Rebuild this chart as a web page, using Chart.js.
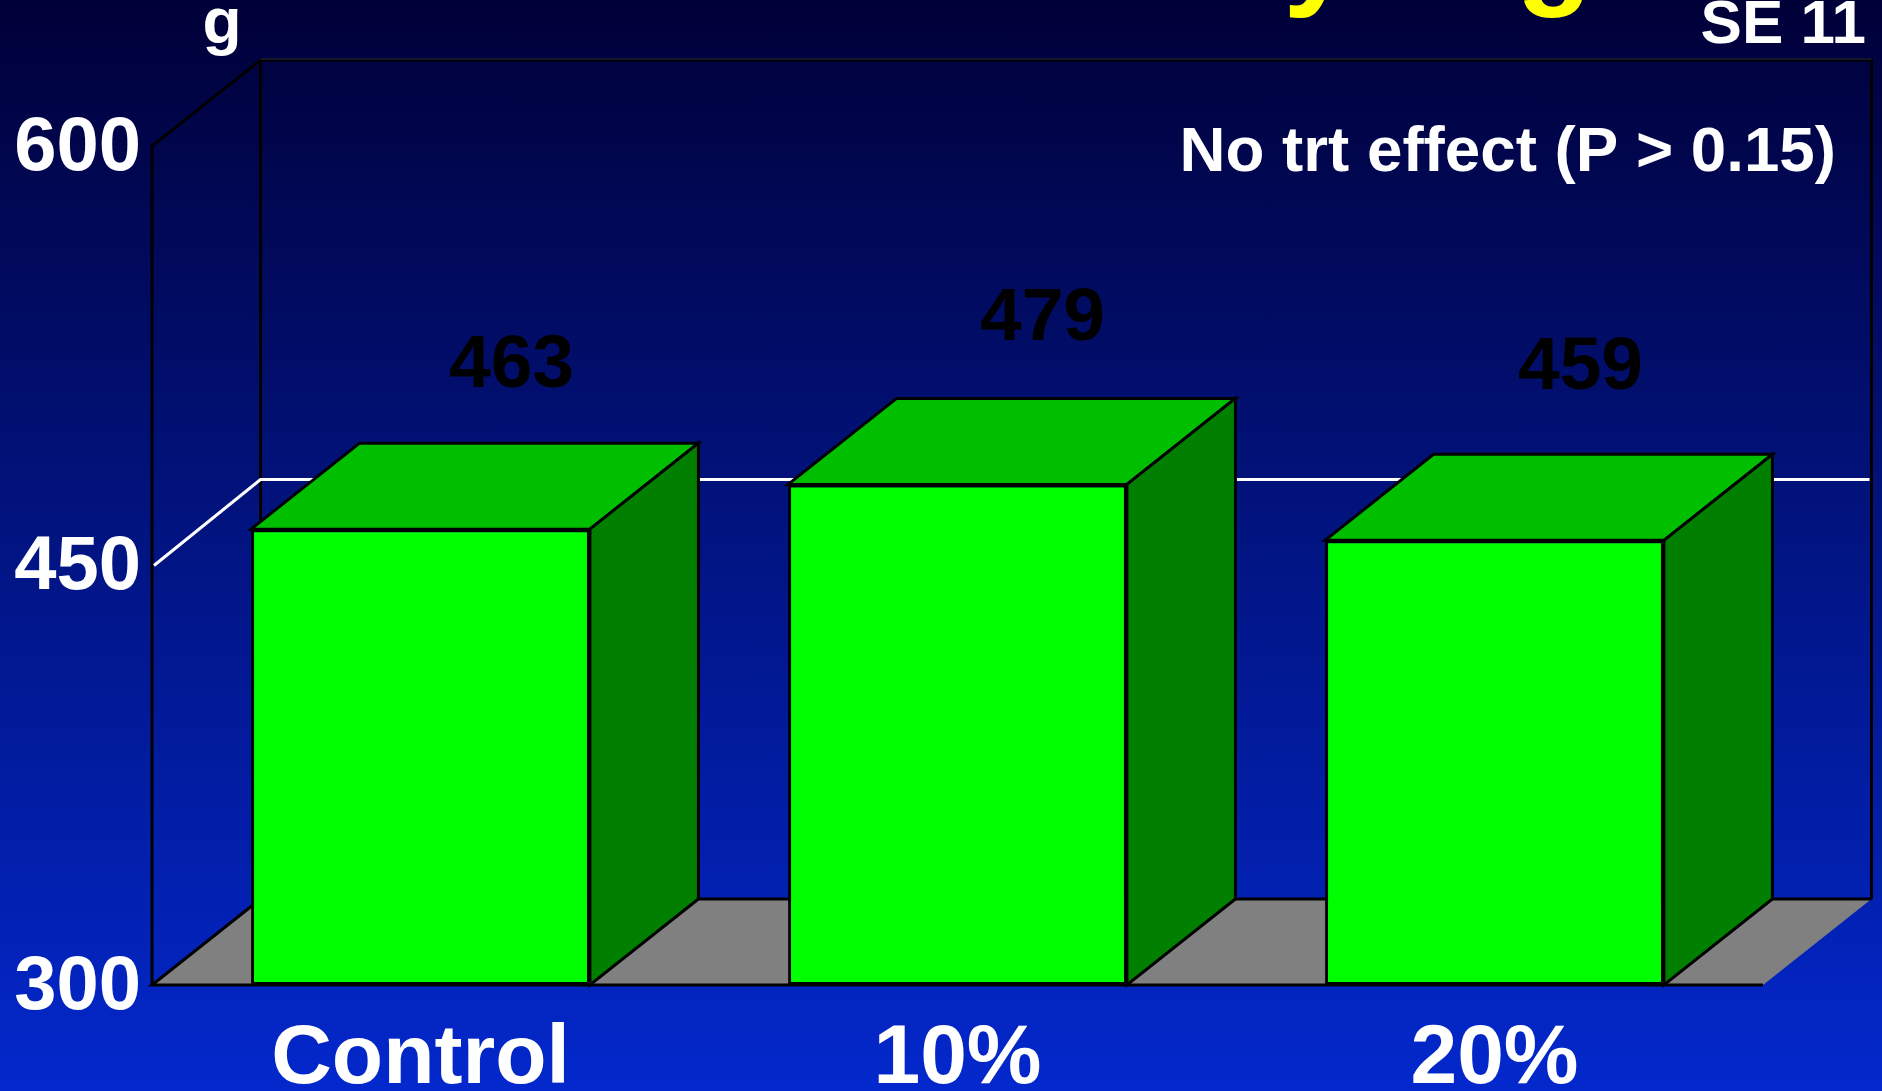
<!DOCTYPE html>
<html>
<head>
<meta charset="utf-8">
<title>Body weight by treatment</title>
<script src="https://cdn.jsdelivr.net/npm/chart.js@4"></script>
<style>
    html, body { margin: 0; padding: 0; background: #000038; overflow: hidden; }
    #weight-chart {
        display: block;
        background: linear-gradient(to bottom, #000038 0%, #0328cc 100%);
    }
</style>
</head>
<body>
<canvas id="weight-chart" width="1882" height="1091"></canvas>
<script>
const categories = ["Control", "10%", "20%"];
const weights = [463, 479, 459];
const yMin = 300;
const yMax = 600;
const yStep = 150;
const gridValue = 450;

const seNote = "SE 11";
const effectNote = "No trt effect (P > 0.15)";
const unitLabel = "g";
const headingGlyphs = ["y", "g"];

const fontFamily = '"Liberation Sans", Arial, sans-serif';

// Perspective offset of the fake 3D box
const depthX = 108.5;
const depthY = 86;

// Value labels float up and to the right of each box
const labelShift = [
    { x: 91, y: 142 },
    { x: 85, y: 144 },
    { x: 86, y: 151 },
];

function line(ctx, points, color, width) {
    ctx.beginPath();
    points.forEach(([x, y], i) => (i ? ctx.lineTo(x, y) : ctx.moveTo(x, y)));
    ctx.strokeStyle = color;
    ctx.lineWidth = width;
    ctx.stroke();
}

function polygon(ctx, points, fill, stroke, width) {
    ctx.beginPath();
    points.forEach(([x, y], i) => (i ? ctx.lineTo(x, y) : ctx.moveTo(x, y)));
    ctx.closePath();
    ctx.fillStyle = fill;
    ctx.fill();
    if (stroke) {
        ctx.strokeStyle = stroke;
        ctx.lineWidth = width;
        ctx.lineJoin = "miter";
        ctx.stroke();
    }
}

function text(ctx, str, x, y, size, color, align) {
    ctx.font = `bold ${size}px ${fontFamily}`;
    ctx.fillStyle = color;
    ctx.textAlign = align;
    ctx.textBaseline = "alphabetic";
    ctx.fillText(str, x, y);
}

// Walls, floor and the side faces of the boxes go underneath the bars
const boxPlugin = {
    id: "box3d",
    beforeDatasetsDraw(chart) {
        const { ctx, chartArea: area, scales } = chart;
        const top = scales.y.getPixelForValue(yMax);
        const bottom = scales.y.getPixelForValue(yMin);
        const grid = scales.y.getPixelForValue(gridValue);
        const left = area.left;
        const right = area.right;

        ctx.save();
        // floor
        polygon(ctx, [
            [left, bottom],
            [left + depthX, bottom - depthY],
            [right + depthX, bottom - depthY],
            [right, bottom],
        ], "#808080");
        line(ctx, [[left + depthX, bottom - depthY], [left, bottom], [right, bottom]], "#000000", 3);
        line(ctx, [[left + depthX, bottom - depthY], [right + depthX, bottom - depthY]], "#000000", 3);

        // walls
        line(ctx, [[left, bottom], [left, top], [left + depthX, top - depthY], [left + depthX, bottom - depthY]], "#000000", 3);
        line(ctx, [[left + depthX, top - depthY], [right + depthX, top - depthY], [right + depthX, bottom - depthY]], "#000000", 3);
        line(ctx, [[left + depthX, top - depthY - 1], [right + depthX, top - depthY - 1]], "#2a2d48", 1);

        // gridline across both walls
        line(ctx, [[left + 2, grid], [left + depthX, grid - depthY], [right + depthX - 2, grid - depthY]], "#ffffff", 3);

        // top and side of each box
        chart.getDatasetMeta(0).data.forEach((bar) => {
            const halfW = bar.width / 2;
            const x0 = bar.x - halfW;
            const x1 = bar.x + halfW;
            polygon(ctx, [
                [x0, bar.y],
                [x0 + depthX, bar.y - depthY],
                [x1 + depthX, bar.y - depthY],
                [x1, bar.y],
            ], "#00bf00", "#000000", 3);
            polygon(ctx, [
                [x1, bar.y],
                [x1 + depthX, bar.y - depthY],
                [x1 + depthX, bar.base - depthY],
                [x1, bar.base],
            ], "#007f00", "#000000", 3);
        });
        ctx.restore();
    },
    afterDatasetsDraw(chart) {
        const { ctx } = chart;
        ctx.save();
        chart.getDatasetMeta(0).data.forEach((bar, i) => {
            text(ctx, String(weights[i]), bar.x + labelShift[i].x, bar.y - labelShift[i].y, 75, "#000000", "center");
        });
        text(ctx, headingGlyphs[0], 1318, -8, 124, "#ffff00", "center");
        text(ctx, headingGlyphs[1], 1554, -8, 124, "#ffff00", "center");
        text(ctx, unitLabel, 222, 43, 64, "#ffffff", "center");
        text(ctx, seNote, 1866, 43, 62, "#ffffff", "right");
        text(ctx, effectNote, 1836, 171, 63.7, "#ffffff", "right");
        ctx.restore();
    },
};

const ctx = document.getElementById("weight-chart").getContext("2d");

new Chart(ctx, {
    type: "bar",
    data: {
        labels: categories,
        datasets: [
            {
                data: weights,
                base: yMin,
                backgroundColor: "#00ff00",
                borderColor: "#000000",
                borderWidth: 3,
                borderSkipped: false,
                categoryPercentage: 1,
                barPercentage: 0.631,
                clip: false,
            },
        ],
    },
    options: {
        responsive: false,
        animation: false,
        layout: { padding: { top: 146, right: 119, left: 0, bottom: 0 } },
        plugins: {
            legend: { display: false },
            tooltip: { enabled: false },
        },
        scales: {
            x: {
                grid: { display: false, drawTicks: false },
                border: { display: false },
                ticks: {
                    color: "#ffffff",
                    font: { family: fontFamily, size: 84, weight: "bold" },
                    padding: 24,
                    maxRotation: 0,
                    autoSkip: false,
                },
                afterFit: (scale) => {
                    scale.height = 106;
                },
            },
            y: {
                min: yMin,
                max: yMax,
                grid: { display: false, drawTicks: false },
                border: { display: false },
                ticks: {
                    stepSize: yStep,
                    color: "#ffffff",
                    font: { family: fontFamily, size: 76, weight: "bold" },
                    padding: 11,
                    labelOffset: 3,
                },
                afterFit: (scale) => {
                    scale.width = 152;
                },
            },
        },
    },
    plugins: [boxPlugin],
});
</script>
</body>
</html>
